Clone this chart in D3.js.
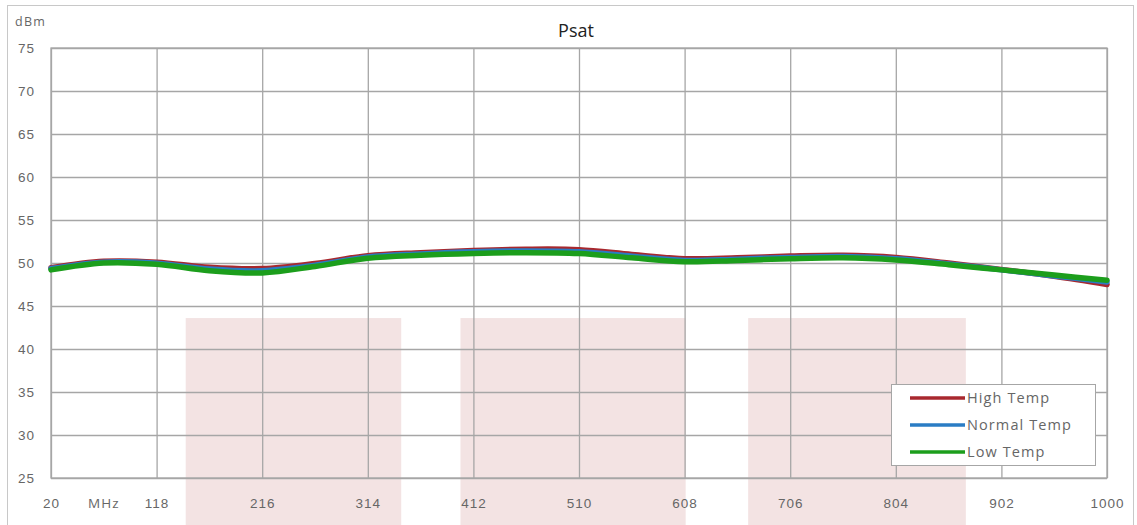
<!DOCTYPE html>
<html>
<head>
<meta charset="utf-8">
<script src="https://cdn.jsdelivr.net/npm/d3@7"></script>
<style>
  body { margin: 0; background: #fff; }
  svg { font-family: "Open Sans", "Noto Sans", sans-serif; }
  .axis text { fill: #666; font-size: 13.5px; letter-spacing: 1px; }
  .axis line { stroke: #a6a6a6; stroke-width: 1.3; }
  .axis path { display: none; }
</style>
</head>
<body>
<svg id="chart"></svg>
<script>
const w = 1137, h = 525;
const margins = { top: 48, right: 30, bottom: 47, left: 51 };

// frequency points (MHz)
const freqs = [20, 69, 118, 167, 216, 265, 314, 363, 412, 461, 510, 559, 608, 657, 706, 755, 804, 853, 902, 951, 1000];
const highTemp = [49.45, 50.2, 50.1, 49.5, 49.35, 49.95, 50.85, 51.2, 51.45, 51.6, 51.55, 51.0, 50.5, 50.6, 50.8, 50.9, 50.65, 50.0, 49.25, 48.45, 47.5];
const normalTemp = [49.35, 50.1, 49.98, 49.3, 49.1, 49.75, 50.7, 51.05, 51.3, 51.4, 51.3, 50.8, 50.3, 50.45, 50.65, 50.75, 50.5, 49.9, 49.2, 48.5, 47.8];
const lowTemp = [49.2, 50.0, 49.85, 49.1, 48.85, 49.6, 50.55, 50.9, 51.1, 51.2, 51.1, 50.6, 50.15, 50.3, 50.5, 50.6, 50.35, 49.8, 49.2, 48.6, 48.0];

const seriesNames = ['High Temp', 'Normal Temp', 'Low Temp'];
const seriesColors = ['#a8282e', '#2a7cc4', '#1c9e1c'];

const xTicks = [20, 118, 216, 314, 412, 510, 608, 706, 804, 902, 1000];
const yTicks = [25, 30, 35, 40, 45, 50, 55, 60, 65, 70, 75];

// shaded bands (MHz ranges) and their top (dBm)
const bands = [[145, 345], [400, 609], [667, 869]];
const bandTop = 43.6;

const chart = d3.select('#chart')
  .attr('width', w)
  .attr('height', h);

const xScale = d3.scaleLinear()
  .domain([20, 1000])
  .range([margins.left, w - margins.right]);

const yScale = d3.scaleLinear()
  .domain([25, 75])
  .range([h - margins.bottom, margins.top]);

// outer frame
chart.append('rect')
  .attr('x', 7.5).attr('y', 5.5)
  .attr('width', w - 11).attr('height', h)
  .attr('fill', 'none')
  .attr('stroke', '#c8c8c8');

// pink bands
chart.selectAll('.band')
  .data(bands)
  .join('rect')
  .attr('class', 'band')
  .attr('x', d => xScale(d[0]))
  .attr('y', yScale(bandTop))
  .attr('width', d => xScale(d[1]) - xScale(d[0]))
  .attr('height', h - yScale(bandTop))
  .attr('fill', '#f3e3e3');

// Y AXIS + grid
chart.append('g')
  .attr('class', 'axis')
  .attr('transform', `translate(${margins.left}, 0)`)
  .call(d3.axisLeft(yScale)
    .tickValues(yTicks)
    .tickSize(-(w - margins.left - margins.right))
    .tickPadding(16));

// X AXIS + grid
chart.append('g')
  .attr('class', 'axis')
  .attr('transform', `translate(0, ${h - margins.bottom})`)
  .call(d3.axisBottom(xScale)
    .tickValues(xTicks)
    .tickFormat(d3.format('d'))
    .tickSize(-(h - margins.top - margins.bottom))
    .tickPadding(20));

// plot border
chart.append('rect')
  .attr('x', margins.left).attr('y', margins.top)
  .attr('width', w - margins.left - margins.right)
  .attr('height', h - margins.top - margins.bottom)
  .attr('fill', 'none')
  .attr('stroke', '#a6a6a6')
  .attr('stroke-width', 1.3);

// unit labels
chart.append('text')
  .attr('x', xScale(69))
  .attr('y', h - margins.bottom + 20)
  .attr('dy', '0.71em')
  .attr('text-anchor', 'middle')
  .style('fill', '#666')
  .style('font-size', '13.5px')
  .style('letter-spacing', '1px')
  .text('MHz');

chart.append('text')
  .attr('x', 15)
  .attr('y', 26)
  .style('fill', '#666')
  .style('font-size', '12.5px')
  .style('letter-spacing', '1.3px')
  .text('dBm');

// title
chart.append('text')
  .attr('x', 576)
  .attr('y', 37)
  .attr('text-anchor', 'middle')
  .style('fill', '#222')
  .style('font-size', '18px')
  .text('Psat');

// lines
const allSeries = [highTemp, normalTemp, lowTemp];
const line = d3.line()
  .x((d, i) => xScale(freqs[i]))
  .y(d => yScale(d))
  .curve(d3.curveCatmullRom.alpha(0.5));

chart.selectAll('.series')
  .data(allSeries)
  .join('path')
  .attr('class', 'series')
  .attr('d', d => line(d))
  .attr('fill', 'none')
  .attr('stroke', (d, i) => seriesColors[i])
  .attr('stroke-width', 5.5)
  .attr('stroke-linecap', 'round');

// legend
const legend = chart.append('g')
  .attr('transform', 'translate(891, 384)');

legend.append('rect')
  .attr('x', 0.5).attr('y', 0.5)
  .attr('width', 204).attr('height', 81)
  .attr('fill', '#fff')
  .attr('stroke', '#a6a6a6');

const items = legend.selectAll('.item')
  .data(seriesNames)
  .join('g')
  .attr('class', 'item')
  .attr('transform', (d, i) => `translate(0, ${14 + i * 27})`);

items.append('line')
  .attr('x1', 19).attr('x2', 74)
  .attr('stroke', (d, i) => seriesColors[i])
  .attr('stroke-width', 3.5);

items.append('text')
  .attr('x', 76)
  .attr('dy', '0.35em')
  .style('fill', '#666')
  .style('font-size', '14.5px')
  .style('letter-spacing', '1.1px')
  .text(d => d);
</script>
</body>
</html>
